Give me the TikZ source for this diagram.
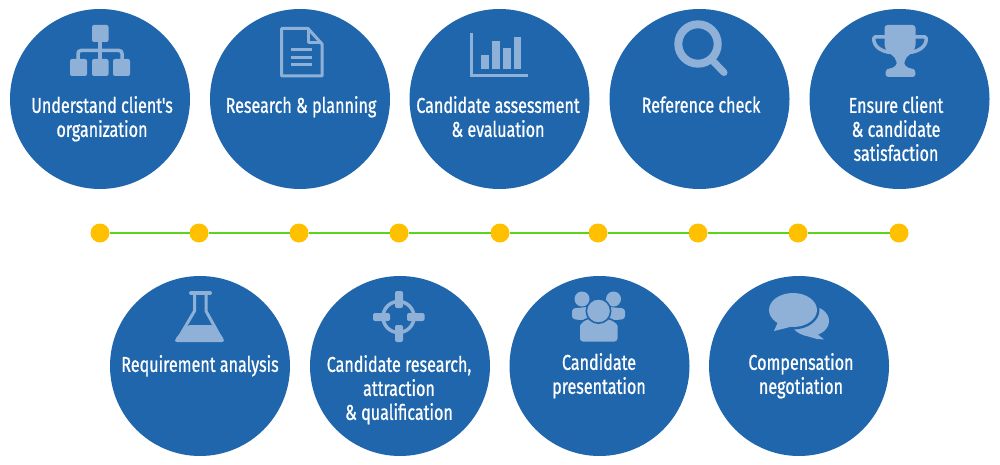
\documentclass[tikz,border=0pt]{standalone}
\usepackage{fontspec}
\newfontfamily\labfont{Fira Sans}[FakeStretch=0.75,FakeBold=0.8]
\newcommand{\ls}{\rule[-5pt]{0pt}{20pt}}
\definecolor{disc}{HTML}{1F66AC}
\definecolor{ico}{HTML}{8FB1D7}
\definecolor{dotc}{HTML}{FFC000}
\definecolor{linec}{HTML}{5CD41E}
\tikzset{
  disc/.style={circle,fill=disc,minimum size=180pt,inner sep=0pt,outer sep=0pt},
  lab/.style={text=white,font=\labfont\fontsize{21.5}{24}\selectfont,align=center,inner sep=0pt},
  dot/.style={circle,fill=dotc,minimum size=19pt,inner sep=0pt,outer sep=0pt},
  link/.style={draw=linec,line width=2pt},
  ifill/.style={fill=ico,draw=none},
  iline/.style={draw=ico,line width=3pt},
  sep/.style={draw=disc,line width=1.6pt},
}
\begin{document}
\begin{tikzpicture}[x=1pt,y=-1pt]
\useasboundingbox (0,0) rectangle (1000,465);
% discs
\node[disc] (a1) at (100,99) {};
\node[disc] (a2) at (300,99) {};
\node[disc] (a3) at (499.5,99) {};
\node[disc] (a4) at (699.5,99) {};
\node[disc] (a5) at (899.5,99) {};
\node[disc] (b1) at (200,366) {};
\node[disc] (b2) at (400,366) {};
\node[disc] (b3) at (599.5,366) {};
\node[disc] (b4) at (799,366) {};
% labels
\node[lab] (ta1) at (102,119) {\ls Understand client's\\organization\ls};
\node[lab] (ta2) at (301,107) {\ls Research \& planning\ls};
\node[lab] (ta3) at (498,119) {\ls Candidate assessment\\\& evaluation\ls};
\node[lab] (ta4) at (701,107) {\ls Reference check\ls};
\node[lab] (ta5) at (896,131) {\ls Ensure client\\\& candidate\\satisfaction\ls};
\node[lab] (tb1) at (200,366) {\ls Requirement analysis\ls};
\node[lab] (tb2) at (399,390) {\ls Candidate research,\\attraction\\\& qualification\ls};
\node[lab] (tb3) at (599,376) {\ls Candidate\\presentation\ls};
\node[lab] (tb4) at (801,376) {\ls Compensation\\negotiation\ls};
% timeline
\node[dot] (d1) at (100,233) {};
\node[dot] (d2) at (199,233) {};
\node[dot] (d3) at (299,233) {};
\node[dot] (d4) at (399,233) {};
\node[dot] (d5) at (500,233) {};
\node[dot] (d6) at (598,233) {};
\node[dot] (d7) at (698,233) {};
\node[dot] (d8) at (798,233) {};
\node[dot] (d9) at (899,233) {};
\draw[link] (d1)--(d2) (d2)--(d3) (d3)--(d4) (d4)--(d5) (d5)--(d6) (d6)--(d7) (d7)--(d8) (d8)--(d9);
% org chart icon
\draw[draw=ico,line width=3.5pt,rounded corners=3pt] (78,60)--(78,50.5)--(122,50.5)--(122,60);
\draw[draw=ico,line width=3.5pt] (100,42)--(100,60);
\fill[ifill,rounded corners=2pt] (92,25) rectangle (108.5,42);
\fill[ifill,rounded corners=2pt] (70,59) rectangle (87,76);
\fill[ifill,rounded corners=2pt] (92,59) rectangle (108.5,76);
\fill[ifill,rounded corners=2pt] (113,59) rectangle (130,76);
% document icon
\draw[iline,line join=round] (281.5,28.5)--(308,28.5)--(322,44)--(322,76)--(281.5,76)--cycle;
\draw[iline,line join=round] (308,28.5)--(308,43)--(322,43);
\draw[iline] (291,50)--(312,50) (291,57.5)--(312,57.5) (291,65)--(312,65);
% chart icon
\draw[iline] (471.5,33)--(471.5,75.5)--(528,75.5);
\fill[ifill] (481,55) rectangle (488.5,69);
\fill[ifill] (492,41) rectangle (499.5,69);
\fill[ifill] (503,48) rectangle (510.5,69);
\fill[ifill] (513.5,37) rectangle (521,69);
% magnifier icon
\draw[draw=ico,line width=8pt] (698,44) circle (19.7);
\draw[draw=ico,line width=7pt,line cap=round] (712,60)--(724,72.5);
% trophy icon
\draw[draw=ico,line width=3.5pt,line join=round,rounded corners=1.5pt] (886,36.8)--(873.8,36.8) .. controls (873.5,46) and (880,51) .. (890,52.5);
\draw[draw=ico,line width=3.5pt,line join=round,rounded corners=1.5pt] (914,36.8)--(926.2,36.8) .. controls (926.5,46) and (920,51) .. (910,52.5);
\fill[ifill,rounded corners=3pt] (884.5,25)--(915.5,25)--(915.5,42) .. controls (915.5,52) and (908,55) .. (905,60) .. controls (904,64) and (906,67) .. (911,68.5) .. controls (915,69.5) and (915.5,73) .. (915.5,77)--(885.5,77) .. controls (885.5,73) and (886,69.5) .. (890,68.5) .. controls (895,67) and (897,64) .. (896,60) .. controls (893,55) and (884.5,52) .. (884.5,42)--cycle;
% flask icon
\draw[draw=ico,line width=4pt,line cap=round] (191,293)--(210,293);
\draw[iline,line join=round] (194.5,294)--(194.5,311)--(177.5,340) (206,294)--(206,311)--(222,340);
\fill[ifill,rounded corners=2pt] (188,325)--(213,325)--(224,339)--(224,342)--(175,342)--(175,339)--cycle;
% crosshair icon
\draw[draw=ico,line width=3.5pt] (398.5,317) circle (15.5);
\fill[ifill,rounded corners=2pt] (395,291) rectangle (403,308);
\fill[ifill,rounded corners=2pt] (395,325) rectangle (403,342);
\fill[ifill,rounded corners=2pt] (373,313) rectangle (390,321);
\fill[ifill,rounded corners=2pt] (407,313) rectangle (424.5,321);
% people icon
\fill[ifill] (582,299) circle (7.5);
\fill[ifill] (613.5,299) circle (7.5);
\fill[ifill,rounded corners=3pt] (572,308.5)--(592,306.5)--(592,320)--(580,320)--(572,319)--cycle;
\fill[ifill,rounded corners=3pt] (625,308.5)--(604,306.5)--(604,320)--(617,320)--(625,319)--cycle;
\path[ifill,sep,rounded corners=4pt] (579,342.5)--(579,330) .. controls (579,323) and (585,319) .. (592,318)--(604,318) .. controls (612,319) and (618.5,323) .. (618.5,330)--(618.5,342.5)--cycle;
\path[ifill,sep] (598.5,311) circle (12.2);
% speech icon
\fill[ifill] (810,321) ellipse (19 and 15);
\fill[ifill] (815,332)--(824,339.5)--(817,339)--(803,335)--cycle;
\path[fill=disc] (793,310) ellipse (26.5 and 19.5);
\fill[ifill] (793,310) ellipse (24 and 17);
\fill[ifill] (778,322)--(774,331)--(790,327)--cycle;
\end{tikzpicture}
\end{document}
